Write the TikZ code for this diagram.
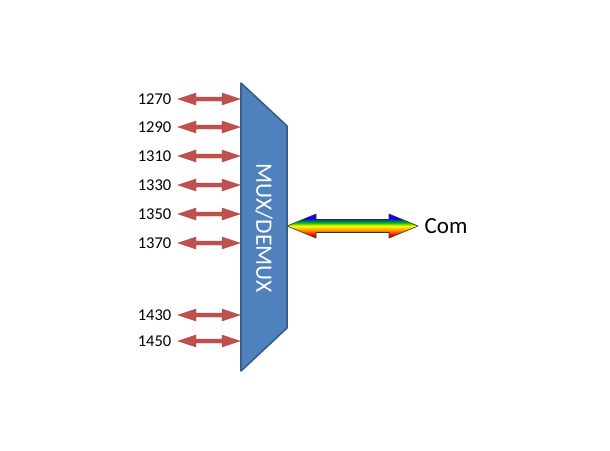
\documentclass[tikz,border=0pt]{standalone}
\usepackage{fontspec}
\setmainfont{Carlito}
\definecolor{muxfill}{HTML}{4F81BD}
\definecolor{muxline}{HTML}{385D8A}
\definecolor{redarr}{HTML}{C0504D}
\definecolor{redline}{HTML}{B04744}
\pgfdeclareverticalshading{rainbowv}{100bp}{color(0bp)=(red!85!black); color(25bp)=(red!85!black); color(32bp)=(red); color(40bp)=(orange); color(50bp)=(yellow); color(57bp)=(green!75!black); color(66bp)=(blue); color(75bp)=(blue!60!violet); color(100bp)=(blue!60!violet)}
\begin{document}
\begin{tikzpicture}[x=1pt,y=-1pt,
  lbl/.style={anchor=east,inner sep=0pt,font=\fontsize{16.5}{16.5}\selectfont},
  redarrow/.style={fill=redarr,draw=redline,line width=0.4pt},
  muxbox/.style={fill=muxfill,draw=muxline,line width=1.6pt,line join=round}]
\useasboundingbox (0,0) rectangle (610,450);
\fill[white] (0,0) rectangle (610,450);
% MUX body
\draw[muxbox] (241,83) -- (287,126) -- (287,328) -- (241,371) -- cycle;
\node[text=white,rotate=-90,font=\fontsize{23.5}{23.5}\selectfont,inner sep=0pt] (mux) at (264,228) {MUX/DEMUX};
% red arrows and labels
\foreach \c/\t/\n in {99/1270/a,127/1290/b,156/1310/c,185/1330/d,214/1350/e,243/1370/f,315/1430/g,341/1450/h}{
  \draw[redarrow] (178,\c) -- (196,\c-6) -- (196,\c-2) -- (222,\c-2) -- (222,\c-6) -- (240,\c) -- (222,\c+6) -- (222,\c+2) -- (196,\c+2) -- (196,\c+6) -- cycle;
  \node[lbl] (l\n) at (171.5,\c) {\t};
}
% rainbow arrow
\draw[shading=rainbowv,draw=black!80,line width=0.6pt,line join=miter]
  (287,226) -- (316,214) -- (316,219.5) -- (389,219.5) -- (389,214) -- (418,226) -- (389,238) -- (389,232.5) -- (316,232.5) -- (316,238) -- cycle;
\node[anchor=west,inner sep=0pt,font=\fontsize{23}{23}\selectfont] (com) at (424.5,226) {Com};
\end{tikzpicture}
\end{document}
